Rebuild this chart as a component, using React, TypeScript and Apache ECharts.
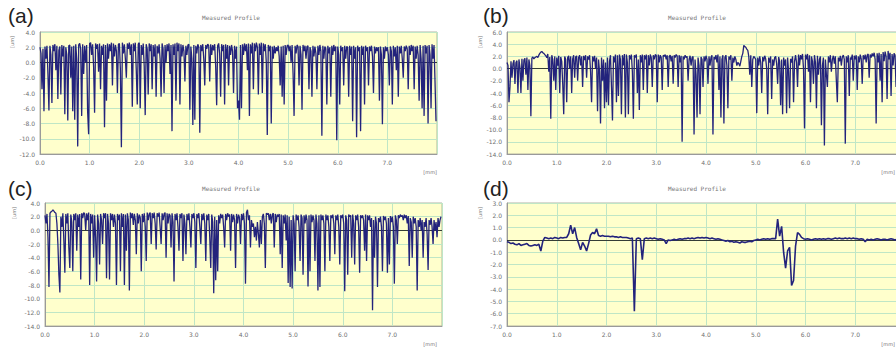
import React, { useEffect, useRef } from "react";
import * as echarts from "echarts";

// Sample step (mm) of the measured profiles
const STEP_ABC = 0.02;
const STEP_D = 0.04;

// Panel (a) heights [um]
const profileA: number[] = [
  2.0, 1.2, -3.5, 1.8, -6.4, 2.1, 0.5, 2.2, -1.5, -6.3,
  2.2, 1.0, -5.3, 2.3, 1.5, 2.4, -1.0, 2.2, -4.8, 1.6,
  2.1, -4.2, 2.3, 0.8, 2.2, -6.8, 2.0, 1.0, -7.6, 2.2,
  2.3, -2.0, 2.1, -6.4, 2.2, -7.5, 2.4, 0.5, -11.0, 2.3,
  2.5, 1.8, -7.0, 2.4, -1.5, 2.2, 0.0, 2.3, -6.5, -9.4,
  2.5, 2.6, 1.0, 2.4, -0.5, -6.6, 2.5, 1.8, 2.4, -1.2,
  2.5, -3.5, 2.2, 1.0, 2.4, -8.5, 2.3, -5.0, 2.5, 0.5,
  2.4, 1.5, 2.6, -3.0, 2.5, 0.8, 2.3, 1.5, -4.0, 2.4,
  2.5, -1.0, -11.1, 2.6, 1.2, 2.4, 0.5, -2.0, 2.5, 1.8,
  2.6, 1.0, 2.4, -5.8, 2.5, 1.5, 2.6, -1.0, -5.5, 2.4,
  2.6, -6.0, 2.3, 1.0, 2.5, -0.5, -6.9, 2.4, 1.8, -4.2,
  2.5, 1.5, 2.4, -3.5, 2.3, 0.8, 2.4, -4.5, 2.2, 1.2,
  2.4, 0.5, -4.5, 2.5, 1.8, -4.0, 2.3, 0.0, 2.4, 1.5,
  2.5, -1.5, 2.3, -9.0, 2.4, 1.0, 2.5, -5.0, 2.6, 1.5,
  2.5, -5.5, 2.4, 0.8, 2.3, 1.5, -2.5, 2.2, 1.0, 2.3,
  2.4, -6.2, 2.1, 0.5, -8.2, 2.3, -7.5, 2.2, 1.2, 2.4,
  2.0, -9.2, 2.3, 1.5, 2.4, 0.5, -3.0, 2.3, 1.8, 2.4,
  2.2, -2.5, 2.4, 1.0, 2.3, 1.6, 2.4, -0.5, -5.6, 2.2,
  2.5, 1.2, -4.5, 2.4, 1.5, 2.3, -5.5, 2.4, 0.5, 2.3,
  -3.0, 2.2, 1.0, 2.3, 1.5, -4.0, 2.2, 0.5, 2.1, -6.0,
  -5.0, -7.5, 2.3, -6.0, 2.4, 1.0, 2.5, 1.5, 2.4, -1.0,
  2.5, -7.0, 2.4, 1.2, 2.6, -3.5, 2.5, 1.5, 2.6, 2.0,
  -4.2, 2.5, 1.0, 2.6, -4.0, 2.5, 1.5, 2.4, 0.0, -9.5,
  2.3, 1.5, 2.2, -8.0, 2.1, 0.5, 2.2, 1.2, 2.0, 1.5,
  2.2, 0.8, -3.0, 2.1, -4.5, 2.2, -5.5, 2.3, 1.0, 2.2,
  2.3, 1.5, 2.2, 0.0, 2.3, -1.5, -7.0, 2.2, 1.2, 2.3,
  2.1, -3.0, 2.2, 1.0, -6.2, 2.3, 1.5, 2.2, 0.5, 2.1,
  2.2, -3.5, 2.0, 1.5, -4.5, 2.2, 0.8, 2.1, 1.2, -3.5,
  2.2, 1.0, 2.3, 1.5, -9.6, 2.2, 0.5, 2.1, 1.8, -5.5,
  2.2, 1.2, 2.0, -4.5, 2.2, 1.0, 2.3, 1.5, 2.1, -10.2,
  2.1, 1.0, -5.5, 2.2, 1.5, 2.0, -3.0, 2.2, 0.5, 2.1,
  2.0, -4.5, 2.2, 1.0, 2.1, -7.7, 2.2, 0.5, 2.0, -9.8,
  2.2, 1.5, 2.0, -9.0, 2.2, 1.0, 2.1, -5.5, 2.2, 1.5,
  2.0, -3.0, 2.1, 1.5, 2.2, 0.8, -4.0, 2.1, 1.2, 2.0,
  1.5, 2.0, -5.0, 2.1, 1.0, -8.1, 2.0, 0.5, 2.1, 1.5,
  2.0, 1.0, -3.0, 2.1, 1.5, -5.5, 2.2, 0.8, 2.0, -1.0,
  2.2, -4.5, 2.1, 1.2, 2.2, 0.5, -2.0, 2.1, 1.5, 2.2,
  1.8, -3.5, 2.2, 1.0, 2.3, 1.5, 2.2, -3.5, 2.1, 0.5,
  2.2, 1.0, -5.0, 2.3, 0.5, -6.0, 2.2, -7.0, 2.3, 1.2,
  2.2, -8.0, 2.3, 1.0, -6.0, 2.4, 0.5, 2.3, -2.5, -7.7,
];

// Panel (b) heights [um]
const profileB: number[] = [
  1.0, 0.5, -5.5, -3.0, 1.2, -1.5, 0.8, 1.4, -2.5, 1.0,
  1.3, -4.0, 1.5, 0.2, -4.0, 1.6, -2.0, 1.4, 1.7, -1.0,
  1.8, -3.5, 1.5, 0.5, -7.8, 1.7, 1.9, 1.6, 1.8, 1.9,
  2.0, 1.8, 2.2, 2.5, 2.7, 2.8, 2.6, 2.5, 2.3, 2.1,
  1.8, 2.4, -0.5, 1.9, -8.2, 2.2, 1.5, -2.0, 2.0, -3.5,
  1.8, 0.5, 2.1, -4.0, 1.9, 1.2, -2.5, -7.5, 2.0, 1.5,
  -5.5, 1.8, 2.1, 0.0, 2.0, -4.0, 1.6, 2.2, -1.5, 1.9,
  2.1, -2.0, 1.8, 2.2, 0.5, 2.0, -3.0, 2.1, 1.4, 2.2,
  -1.5, 2.0, 1.5, 2.2, -0.5, -5.5, 2.0, 1.2, 2.1, 0.0,
  1.8, -7.0, 1.5, -0.5, -9.0, 1.8, -2.0, 1.5, -6.5, 1.0,
  -5.5, 1.8, -6.0, 1.2, 2.2, -3.0, -8.5, 2.0, 1.0, 2.3,
  -5.5, 2.2, -4.5, 2.3, 1.5, -7.5, 2.2, 0.5, 2.4, -8.0,
  2.3, 1.0, -7.5, 2.2, 1.5, 2.3, -0.5, -8.2, 2.2, 1.8,
  2.3, -4.0, 1.5, -6.8, 2.2, 1.0, 2.3, -3.5, 2.2, 1.5,
  2.3, -4.0, 2.2, 0.5, 2.3, 1.8, -3.0, 2.2, 1.5, 2.3,
  2.2, -5.5, 2.3, 1.0, 2.2, 1.8, -3.5, 2.2, 2.0, 2.3,
  1.5, 2.2, -3.0, 2.0, 2.2, 1.2, 2.1, -2.5, 2.2, 1.8,
  2.3, 2.1, -3.0, 2.2, 1.0, 2.1, -12.0, 2.0, 1.5, 2.2,
  1.8, 2.0, -2.0, 1.5, 2.1, 0.5, 1.8, 2.0, -10.8, 1.5,
  -1.0, -8.0, 1.8, 0.5, -7.5, 1.9, 1.5, -3.0, 2.0, 1.2,
  2.1, 1.5, -2.5, 2.0, 0.5, 1.8, 2.2, -10.8, 1.9, 1.5,
  2.2, 1.0, 2.3, -3.5, 2.0, -8.0, 1.5, 2.2, -9.0, 1.8,
  2.2, 0.5, -6.5, 2.0, 1.5, 2.2, -2.0, 1.8, 1.0, 2.0,
  1.5, 0.5, 1.0, 0.8, 0.4, 1.2, 2.0, 2.5, 3.8, 3.6,
  3.5, 3.2, 3.0, 2.0, -1.0, 2.2, -3.0, 1.5, 2.0, 1.8,
  1.5, -7.3, 1.8, 0.5, 2.0, 1.0, -4.0, 1.9, 1.2, 2.1,
  1.6, 0.0, -7.5, 1.8, 1.0, 2.0, -5.0, 1.5, 0.5, 1.8,
  2.0, 0.8, -2.5, 1.9, 1.2, -6.0, 1.5, -7.5, 1.8, 0.5,
  1.5, -7.3, 1.8, -0.5, -6.5, 1.6, 1.0, 2.0, -5.5, 1.2,
  2.2, 1.0, -3.0, 2.3, 0.5, 2.2, 1.5, 2.4, 0.0, -9.8,
  2.3, 1.5, 2.4, -0.5, 2.2, -5.5, 2.0, 1.2, -2.5, 2.2,
  1.0, -6.5, 2.1, -1.0, 1.5, 2.0, -9.3, 0.5, 1.8, -12.6,
  1.5, -1.0, -3.0, 2.0, 1.0, 2.2, -0.5, 1.5, 2.1, 0.8,
  2.0, -2.0, -5.5, 1.8, 1.2, 2.1, 0.5, 1.9, 2.2, 1.5,
  -12.3, 2.0, 1.0, 2.2, -4.5, 1.8, 1.5, 2.3, -2.0, 2.1,
  1.5, 2.2, -3.5, 2.0, 1.0, 2.3, 1.6, -2.5, 2.2, 1.5,
  2.3, 1.0, 2.2, 2.4, -1.5, 2.3, 1.8, 2.5, 2.0, 2.6,
  1.5, -9.0, 2.5, 1.0, 2.6, -2.0, 2.4, -5.5, 2.7, 1.2,
  2.8, 2.0, -5.0, 2.9, 1.5, 2.6, -4.5, 2.4, 0.5, 2.5,
  2.2, -3.0, 2.4, 1.0, -4.5, 2.3, 1.5, 2.2, -2.0, 2.0,
];

// Panel (c) heights [um]
const profileC: number[] = [
  2.2, 1.0, 2.4, -1.0, -8.3, 2.5, 2.7, 2.8, 3.0, 2.8,
  2.6, 2.5, 1.0, -2.0, -6.5, -9.1, 2.0, 0.5, 2.5, -1.5,
  -6.2, 2.4, 1.0, 2.5, -2.5, -5.5, 2.3, 1.2, -6.0, 2.4,
  1.5, 2.5, -3.0, 2.3, 0.5, 2.4, -7.2, 2.5, 1.8, 2.6,
  2.4, 0.0, 2.5, 1.5, 2.6, -8.0, 2.4, 1.0, 2.3, -4.0,
  2.2, -1.0, -7.5, 2.3, 1.0, -5.0, 2.4, 1.5, -2.0, 2.5,
  1.8, 2.5, -7.0, 2.4, 1.0, -7.2, 2.5, 1.5, 2.4, 0.5,
  2.3, 1.0, -8.0, 2.4, 1.5, 2.3, -6.0, 2.5, 0.5, 2.4,
  -8.0, 2.3, -3.0, 2.5, 1.5, -8.8, 2.6, 1.8, 2.5, 0.8,
  2.4, 1.5, -3.5, 2.5, 1.0, 2.3, 1.8, -6.0, 2.4, 1.2,
  2.5, 0.5, -4.5, 2.6, 1.5, 2.4, 2.6, -2.0, 2.5, 1.8,
  2.6, 1.0, -2.8, 2.5, 2.0, 2.6, 0.5, -2.0, 2.5, 1.5,
  2.4, 2.6, -4.0, 2.5, 1.0, 2.4, 2.2, -2.5, 2.5, 1.2,
  -7.5, 2.4, 1.5, 2.5, 0.5, -3.0, 2.4, 1.8, 2.5, -4.5,
  2.3, 1.0, -3.5, 2.4, 1.5, 2.5, 0.5, -2.5, 2.4, 1.8,
  2.5, 1.2, -5.5, 2.4, 1.8, 2.5, 0.5, -2.0, 2.4, 1.5,
  2.5, 1.0, -4.5, 2.3, 1.5, 2.4, -1.0, -5.5, 2.3, 1.2,
  -9.2, 2.0, -7.3, 1.5, -6.0, 2.2, 1.0, 2.4, 1.8, 2.3,
  0.5, -2.5, 2.4, 1.5, 2.5, 2.0, 2.3, -3.0, 2.4, 1.2,
  2.3, 1.5, -5.5, 2.4, 1.0, 2.3, 1.8, -2.0, 2.4, 1.5,
  2.5, 1.0, -7.8, 2.6, 3.0, 1.5, 2.2, -2.5, 1.5, 0.5,
  1.0, -1.0, 0.5, -1.5, 1.2, -0.5, -2.5, 1.5, -2.0, 2.0,
  2.4, 1.0, -5.5, 2.5, 2.3, 2.5, 1.5, 2.4, 1.0, 2.3,
  2.5, -2.5, 2.4, 1.2, 2.3, 2.0, 2.4, -3.5, 2.3, -5.5,
  2.2, 1.0, 2.3, -1.5, 2.2, -7.7, 2.0, -8.3, 1.5, -8.5,
  2.2, 1.0, -6.0, 2.3, 1.5, 2.2, 0.5, -4.5, 2.3, 1.8,
  -6.5, 2.2, 1.0, 2.3, 1.5, -8.2, 2.2, -6.0, 2.3, 1.2,
  2.2, 1.5, -4.5, 2.3, 1.0, -8.8, 2.2, -8.3, 2.3, 1.5,
  2.2, 1.0, -6.0, 2.3, 1.5, 2.2, 0.5, -4.5, 2.2, 1.8,
  2.3, 1.0, -3.5, 2.2, 1.5, 2.3, 0.5, -5.0, 2.2, 1.8,
  2.3, 1.0, -8.9, 2.2, 1.5, -6.5, 2.3, 2.0, 2.2, -4.0,
  2.3, 1.0, -5.0, 2.2, 1.5, 2.3, 0.5, -6.2, 2.2, 1.8,
  2.2, 1.5, -3.0, 2.3, -4.5, 2.2, 1.5, 2.2, 0.5, 1.8,
  -11.7, 1.5, -4.0, 2.0, 1.0, -8.3, 1.8, 1.2, 2.0, 0.5,
  -6.0, 2.1, 1.5, 2.0, 1.0, -6.2, 1.8, -5.0, 2.1, 1.2,
  2.0, 0.5, -7.8, 2.2, 1.5, -2.0, 2.2, 1.8, 2.3, 2.0,
  2.2, 1.5, 2.3, 1.8, 2.2, 1.0, 2.1, -5.2, 1.8, 1.2,
  -4.0, 2.0, 1.0, 1.8, 0.5, -8.8, 1.5, 0.5, 1.8, 0.0,
  1.5, -4.0, 1.2, 0.5, 1.8, -0.5, -5.8, 1.5, 0.8, 1.8,
  0.5, -2.0, 1.5, 0.0, 1.2, -1.0, 1.8, 0.5, 1.5, 2.0,
];

// Panel (d) heights [um]
const profileD: number[] = [
  -0.15, -0.2, -0.3, -0.25, -0.35, -0.4, -0.3, -0.45, -0.4, -0.35,
  -0.3, -0.45, -0.5, -0.45, -0.4, -0.45, -0.35, -0.9, -0.1, 0.2,
  0.15, 0.1, 0.15, 0.1, 0.2, 0.15, 0.1, 0.2, 0.15, 0.2,
  0.2, 0.5, 1.2, 0.5, 1.0, 0.2, -0.3, -0.8, -0.2, -0.5,
  -0.9, -0.3, 0.4, 0.6, 0.5, 0.9, 0.35, 0.3, 0.35, 0.3,
  0.3, 0.3, 0.25, 0.3, 0.25, 0.25, 0.2, 0.25, 0.2, 0.2,
  0.2, 0.15, 0.1, 0.15, -5.8, 0.1, 0.15, 0.1, -1.6, 0.1,
  0.15, 0.1, 0.15, 0.1, 0.15, 0.1, 0.05, 0.1, 0.05, 0.0,
  -0.3, 0.0, -0.05, 0.0, 0.05, 0.0, 0.05, 0.1, 0.05, 0.1,
  0.1, 0.15, 0.1, 0.15, 0.1, 0.15, 0.2, 0.15, 0.2, 0.15,
  0.2, 0.15, 0.1, 0.15, 0.1, 0.05, 0.1, 0.05, 0.0, -0.05,
  -0.1, -0.05, -0.15, -0.1, -0.2, -0.15, -0.2, -0.25, -0.15, -0.2,
  -0.2, -0.15, -0.1, -0.15, -0.05, 0.0, 0.05, 0.0, 0.05, 0.1,
  0.05, 0.1, 0.05, 0.1, 0.1, 0.1, 1.7, 0.3, 1.1, -1.0,
  -2.3, -0.9, -0.6, -3.7, -3.3, -0.5, 0.6, 0.45, 0.2, 0.1,
  0.05, 0.1, 0.05, 0.0, 0.05, 0.1, 0.05, 0.1, 0.05, 0.1,
  0.05, 0.1, 0.1, 0.05, 0.1, 0.15, 0.1, 0.15, 0.1, 0.1,
  0.15, 0.1, 0.15, 0.1, 0.15, 0.1, 0.1, 0.05, 0.1, 0.05,
  -0.15, 0.05, 0.0, 0.05, 0.0, 0.05, 0.1, 0.05, 0.0, 0.05,
  0.05, 0.0, 0.05, 0.1, 0.05, 0.0, 0.05, 0.1, 0.05, 0.05,
];

const panelLabels = ["(a)", "(b)", "(c)", "(d)"];
const titleText = "Measured Profile";
const xUnit = "[mm]";
const yUnit = "[um]";
const yRanges: [number, number, number][] = [
  [-12, 4, 2],
  [-14, 6, 2],
  [-14, 4, 2],
  [-7, 3, 1],
];

const LINE = "#23237c";
const GRIDC = "#bfe6c6";
const LABELC = "#6f6f6f";

export default function App() {
  const ref = useRef<HTMLDivElement>(null);
  useEffect(() => {
    if (!ref.current) return;
    const chart = echarts.init(ref.current, undefined, { renderer: "svg" });
    const grids = [
      { left: 40, top: 32, width: 397, height: 122 },
      { left: 507, top: 32, width: 398, height: 122 },
      { left: 45, top: 203, width: 397, height: 123 },
      { left: 507, top: 203, width: 398, height: 123 },
    ];
    const profiles = [profileA, profileB, profileC, profileD];
    const steps = [STEP_ABC, STEP_ABC, STEP_ABC, STEP_D];

    const fmt = (v: number) => v.toFixed(1);

    const option: any = {
      animation: false,
      backgroundColor: "#ffffff",
      grid: grids.map((g) => ({
        ...g,
        show: true,
        backgroundColor: "#ffffcc",
        borderColor: "#b4b4a0",
        borderWidth: 1,
        containLabel: false,
      })),
      xAxis: grids.map((_, i) => ({
        type: "value",
        gridIndex: i,
        min: 0,
        max: 8,
        interval: 1,
        axisLine: { show: true, onZero: false, lineStyle: { color: "#9a9a9a", width: 1 } },
        axisTick: { show: false },
        splitLine: { show: true, lineStyle: { color: GRIDC, width: 1 } },
        axisLabel: {
          fontSize: 6,
          color: LABELC,
          margin: 5,
          fontFamily: "DejaVu Sans",
          formatter: (v: number) => (v >= 8 ? "" : fmt(v)),
        },
      })),
      yAxis: grids.map((_, i) => ({
        type: "value",
        gridIndex: i,
        min: yRanges[i][0],
        max: yRanges[i][1],
        interval: yRanges[i][2],
        axisLine: { show: true, onZero: false, lineStyle: { color: "#9a9a9a", width: 1 } },
        axisTick: { show: false },
        splitLine: { show: true, lineStyle: { color: GRIDC, width: 1 } },
        axisLabel: {
          fontSize: 6,
          color: LABELC,
          margin: 5,
          fontFamily: "DejaVu Sans",
          formatter: (v: number) => fmt(v),
        },
      })),
      series: profiles.map((p, i) => ({
        type: "line",
        xAxisIndex: i,
        yAxisIndex: i,
        data: p.map((y, k) => [k * steps[i], y]),
        showSymbol: false,
        symbol: "none",
        lineStyle: { color: LINE, width: i === 3 ? 1.6 : 1.3 },
        z: 3,
        markLine: {
          silent: true,
          symbol: "none",
          label: { show: false },
          lineStyle: { color: "#111111", width: 0.8, type: "solid" },
          data: [{ yAxis: 0 }],
          z: 2,
        },
      })),
      graphic: [
        ...grids.map((g, i) => ({
          type: "text",
          x: i % 2 === 0 ? 8 : 483,
          y: i < 2 ? 5 : 178,
          style: {
            text: panelLabels[i],
            font: "21px 'Liberation Sans', Arial, sans-serif",
            fill: "#222222",
          },
        })),
        ...grids.map((g, i) => ({
          type: "text",
          x: i % 2 === 0 ? 231 : 697,
          y: i < 2 ? 17 : 188,
          style: {
            text: titleText,
            font: "6px 'DejaVu Sans Mono', monospace",
            fill: "#777777",
            textAlign: "center",
            textVerticalAlign: "middle",
          },
        })),
        ...grids.map((g, i) => ({
          type: "text",
          x: i % 2 === 0 ? (i === 0 ? 12 : 14) : 480,
          y: g.top + 4,
          rotation: Math.PI / 2,
          style: {
            text: yUnit,
            font: "5px 'DejaVu Sans', sans-serif",
            fill: "#777777",
            textAlign: "right",
            textVerticalAlign: "middle",
          },
        })),
        ...grids.map((g, i) => ({
          type: "text",
          x: i % 2 === 0 ? 437 : 895,
          y: g.top + g.height + 18,
          style: {
            text: xUnit,
            font: "5px 'DejaVu Sans', sans-serif",
            fill: "#777777",
            textAlign: "right",
            textVerticalAlign: "middle",
          },
        })),
      ],
    };
    chart.setOption(option);
    return () => chart.dispose();
  }, []);

  return (
    <div
      style={{
        position: "fixed",
        left: 0,
        top: 0,
        width: 896,
        height: 347,
        overflow: "hidden",
        background: "#ffffff",
      }}
    >
      <div ref={ref} style={{ width: 930, height: 347 }} />
    </div>
  );
}
